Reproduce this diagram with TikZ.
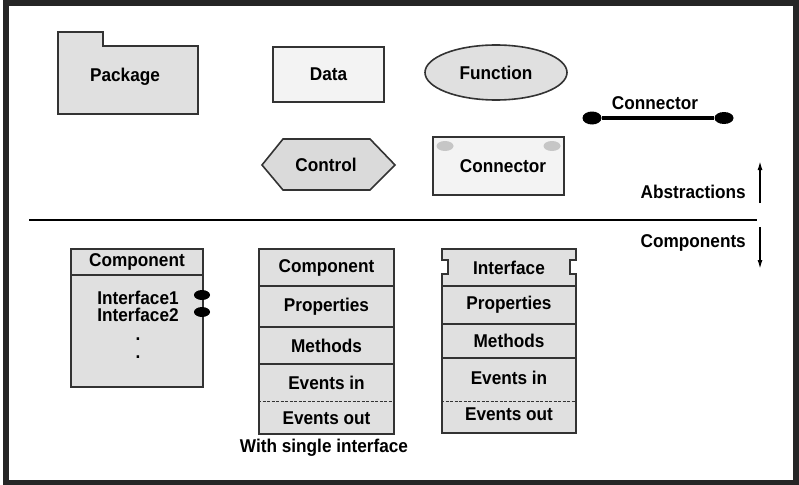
\documentclass[tikz,border=0pt]{standalone}
\usepackage{fontspec}
\setmainfont{Liberation Sans}
\newfontfamily\labelfont[FakeStretch=0.93]{Liberation Sans}
\usetikzlibrary{shapes.geometric,arrows.meta}
\definecolor{boxgray}{HTML}{E0E0E0}
\definecolor{palegray}{HTML}{F3F3F3}
\definecolor{hexgray}{HTML}{DADADA}
\definecolor{edgegray}{HTML}{333333}
\definecolor{knobgray}{HTML}{C6C6C6}
\definecolor{framegray}{HTML}{262626}

\begin{document}
\begin{tikzpicture}[x=1pt,y=-1pt,
  lbl/.style={font=\labelfont\fontsize{18.5}{17}\selectfont\bfseries, inner sep=0pt},
  outline/.style={draw=edgegray, line width=1.6pt},
  shaded/.style={outline, fill=boxgray},
  cell/.style={shaded, rectangle, inner sep=0pt, minimum width=#1},
  blackdot/.style={ellipse, fill=black, inner sep=0pt, minimum width=17pt, minimum height=11pt},
  knob/.style={ellipse, fill=knobgray, inner sep=0pt, minimum width=17pt, minimum height=10pt},
  tip/.style={-{Latex[length=9pt,width=5pt]}, line width=1.5pt},
]
\useasboundingbox (0,0) rectangle (799,484);
% outer frame
\draw[framegray, line width=6pt] (6,3.5) rectangle (796,482.5);

% ---------- abstractions ----------
% package (folder)
\draw[shaded] (58,32) -- (103,32) -- (103,46) -- (198,46) -- (198,114) -- (58,114) -- cycle;
\node[lbl] (package) at (125,77) {Package};

% data
\node[outline, fill=palegray, rectangle, minimum width=111pt, minimum height=55pt, inner sep=0pt,
      label={[lbl]center:Data}] (data) at (328.5,74.5) {};

% function
\node[outline, fill=boxgray, ellipse, minimum width=142pt, minimum height=55pt, inner sep=0pt,
      label={[lbl]center:Function}] (function) at (496,72.5) {};

% control (hexagon)
\draw[outline, fill=hexgray] (262,165) -- (283,139) -- (370,139) -- (395,165) -- (370,190) -- (283,190) -- cycle;
\node[lbl] (control) at (326,165) {Control};

% connector box
\node[outline, fill=palegray, rectangle, minimum width=131pt, minimum height=58pt, inner sep=0pt]
      (connbox) at (498.5,166) {};
\node[knob] (knobL) at (445,146) {};
\node[knob] (knobR) at (552,146) {};
\node[lbl] (conntext) at (503,166) {Connector};

% connector line
\node[blackdot, minimum width=19pt, minimum height=13pt] (endL) at (592,118) {};
\node[blackdot, minimum width=19pt, minimum height=12pt] (endR) at (724,118) {};
\draw[line width=4pt] (endL) -- (endR);
\node[lbl] (connlabel) at (655,103) {Connector};

% ---------- separator and direction labels ----------
\coordinate (sepL) at (29,220);
\coordinate (sepR) at (757,220);
\draw[line width=2pt] (sepL) -- (sepR);
\node[lbl, anchor=east] (abstr) at (746,192) {Abstractions};
\node[lbl, anchor=east] (comps) at (746,243) {Components};
\coordinate (upA) at (760,203);
\coordinate (upB) at (760,161);
\coordinate (dnA) at (760,227);
\coordinate (dnB) at (760,269);
\draw[tip] (upA) -- (upB);
\draw[tip] (dnA) -- (dnB);

% ---------- components ----------
% component with interfaces
\node[cell=132pt, minimum height=26pt] (lhead) at (137,262) {};
\node[lbl] at (lhead.center) {Component};
\node[cell=132pt, minimum height=112pt] (lbody) at (137,331) {};
\node[lbl, align=center] (ifs) at (138,306.5) {Interface1\\Interface2};
\node[lbl] (dotA) at (138,339) {.};
\node[lbl] (dotB) at (138,357) {.};
\node[blackdot, minimum width=16pt, minimum height=10pt] (plug1) at (202,295) {};
\node[blackdot, minimum width=16pt, minimum height=10pt] (plug2) at (202,312) {};

% component with single interface
\node[cell=135pt, minimum height=37pt] (mhead) at (326.5,267.5) {};
\node[lbl] at (mhead.center) {Component};
\node[cell=135pt, minimum height=41pt] (mprop) at (326.5,306.5) {};
\node[lbl] at (mprop.center) {Properties};
\node[cell=135pt, minimum height=37pt] (mmeth) at (326.5,345.5) {};
\node[lbl] at (mmeth.center) {Methods};
\node[cell=135pt, minimum height=70pt] (mevt) at (326.5,399) {};
\draw[edgegray, line width=1pt, dash pattern=on 3pt off 1.5pt] (mevt.west |- 0,401) -- (mevt.east |- 0,401);
\node[lbl] (min) at (326.5,383) {Events in};
\node[lbl] (mout) at (326.5,418) {Events out};
\node[lbl] (caption) at (324,448) {With single interface};

% interface
\draw[shaded] (442,249) -- (576,249) -- (576,260) -- (570,260) -- (570,274) -- (576,274) -- (576,286)
  -- (442,286) -- (442,274) -- (448,274) -- (448,260) -- (442,260) -- cycle;
\node[lbl] (ihead) at (509,268) {Interface};
\node[cell=134pt, minimum height=38pt] (iprop) at (509,305) {};
\node[lbl] at (iprop.center) {Properties};
\node[cell=134pt, minimum height=34pt] (imeth) at (509,341) {};
\node[lbl] at (imeth.center) {Methods};
\node[cell=134pt, minimum height=75pt] (ievt) at (509,395.5) {};
\draw[edgegray, line width=1pt, dash pattern=on 3pt off 1.5pt] (ievt.west |- 0,401) -- (ievt.east |- 0,401);
\node[lbl] (iin) at (509,378) {Events in};
\node[lbl] (iout) at (509,414) {Events out};
\end{tikzpicture}
\end{document}
